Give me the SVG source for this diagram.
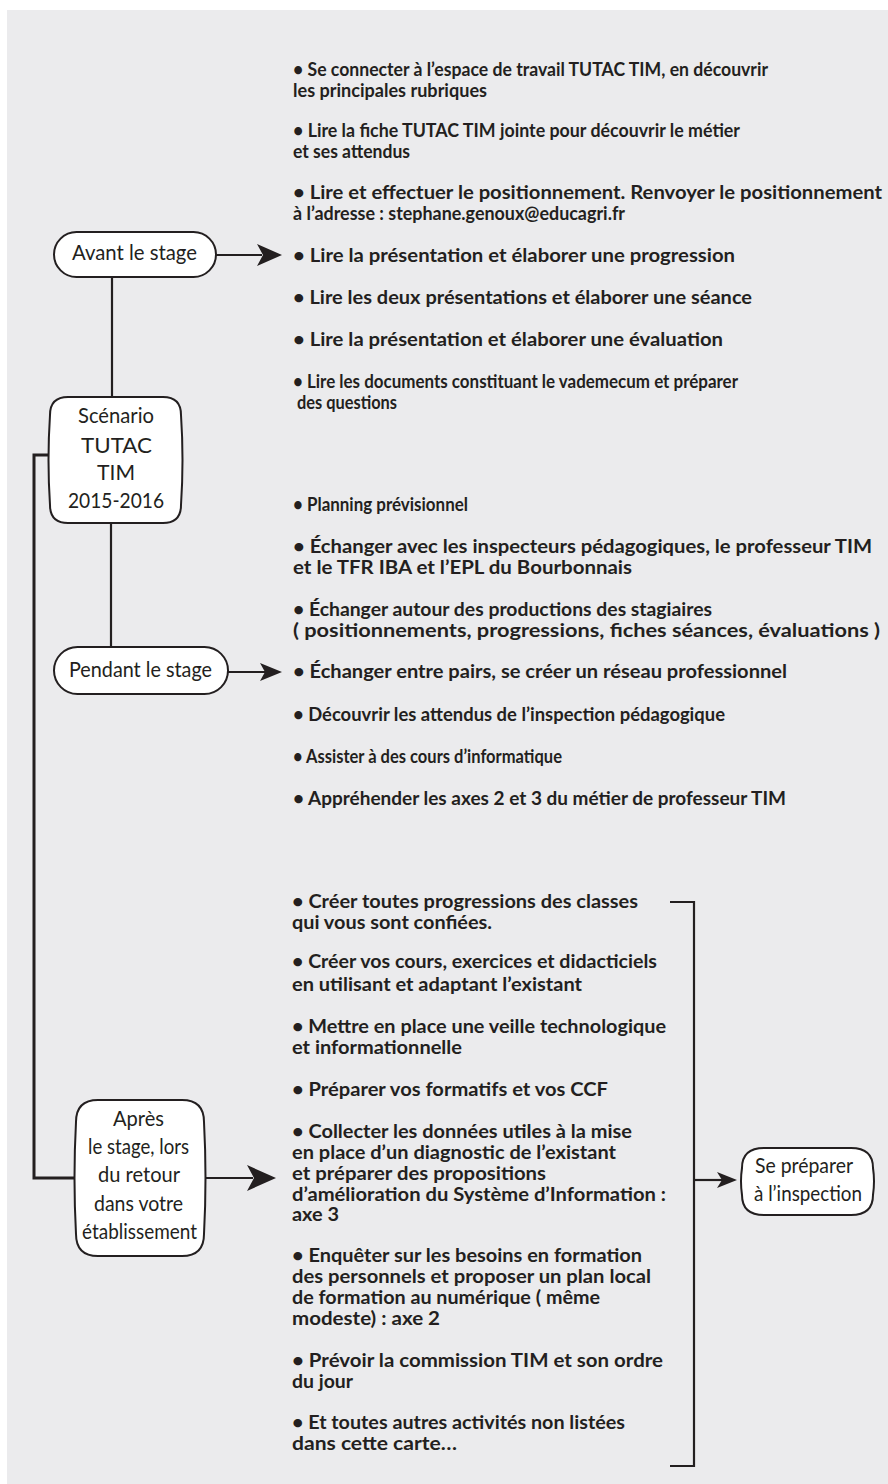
<svg xmlns="http://www.w3.org/2000/svg" width="888" height="1484" viewBox="0 0 888 1484">
<style>
.bg{fill:#ebebed}
.node{fill:#fff;stroke:#231f20;stroke-width:2}
.nt{font-family:Lato,"Liberation Sans",sans-serif;font-size:20.5px;fill:#231f20;text-anchor:middle}
.nl{font-family:Lato,"Liberation Sans",sans-serif;font-size:20.5px;fill:#231f20}
.bt{font-family:Lato,"Liberation Sans",sans-serif;font-size:18px;font-weight:bold;fill:#231f20}
.ln{fill:none;stroke:#231f20;stroke-width:2.2}
.lnb{fill:none;stroke:#231f20;stroke-width:3}
.ah{fill:#231f20;stroke:none}
</style>
<rect class="bg" x="7" y="10" width="881" height="1474"/>

<g id="connectors">
  <line class="ln" x1="112" y1="277" x2="112" y2="397"/>
  <line class="ln" x1="111" y1="523" x2="111" y2="647"/>
  <polyline class="lnb" points="50,455 34,455 34,1178 77,1178"/>
  <line class="ln" x1="216" y1="255" x2="262" y2="255"/>
  <path class="ah" d="M282,255 L257,244 L263,255 L257,266 Z"/>
  <line class="ln" x1="228" y1="672" x2="265" y2="672"/>
  <path class="ah" d="M282,672 L260,663 L265,672 L260,681 Z"/>
  <line class="ln" x1="204" y1="1178" x2="253" y2="1178"/>
  <path class="ah" d="M276,1178 L247,1165 L254,1178 L247,1191 Z"/>
  <polyline class="ln" points="670,902 694,902 694,1466 670,1466"/>
  <line class="ln" x1="694" y1="1180" x2="722" y2="1180"/>
  <path class="ah" d="M737,1180 L717,1172 L722,1180 L717,1188 Z"/>
</g>

<g id="avant">
  <rect class="node" x="54" y="232" width="162" height="45" rx="22.5"/>
  <text class="nt" x="134.5" y="260" textLength="125" lengthAdjust="spacingAndGlyphs">Avant le stage</text>
</g>

<g id="scenario">
  <path class="node" d="M68,397 H163 Q181,397 181,415 Q184,460 181,505 Q181,523 163,523 H68 Q50,523 50,505 Q47,460 50,415 Q50,397 68,397 Z"/>
  <text class="nt" x="116" y="423" textLength="76" lengthAdjust="spacingAndGlyphs">Scénario</text>
  <text class="nt" x="116.5" y="453" textLength="71" lengthAdjust="spacingAndGlyphs">TUTAC</text>
  <text class="nt" x="116" y="480" textLength="38" lengthAdjust="spacingAndGlyphs">TIM</text>
  <text class="nt" x="116" y="508" textLength="96" lengthAdjust="spacingAndGlyphs">2015-2016</text>
</g>

<g id="pendant">
  <rect class="node" x="54" y="647" width="174" height="47" rx="23.5"/>
  <text class="nt" x="140.5" y="677" textLength="143" lengthAdjust="spacingAndGlyphs">Pendant le stage</text>
</g>

<g id="apres">
  <path class="node" d="M98,1100 H182 Q204,1100 204,1122 Q207,1178 204,1234 Q204,1256 182,1256 H98 Q76,1256 76,1234 Q73,1178 76,1122 Q76,1100 98,1100 Z"/>
  <text class="nt" x="138.5" y="1126" textLength="51" lengthAdjust="spacingAndGlyphs">Après</text>
  <text class="nt" x="138.5" y="1154" textLength="101" lengthAdjust="spacingAndGlyphs">le stage, lors</text>
  <text class="nt" x="139" y="1182" textLength="82" lengthAdjust="spacingAndGlyphs">du retour</text>
  <text class="nt" x="138.5" y="1211" textLength="89" lengthAdjust="spacingAndGlyphs">dans votre</text>
  <text class="nt" x="139.5" y="1239" textLength="115" lengthAdjust="spacingAndGlyphs">établissement</text>
</g>

<g id="preparer">
  <path class="node" d="M764,1148 H851 Q873,1148 873,1168 Q875,1181 873,1195 Q873,1215 851,1215 H764 Q742,1215 742,1195 Q740,1181 742,1168 Q742,1148 764,1148 Z"/>
  <text class="nl" x="755" y="1173" textLength="98" lengthAdjust="spacingAndGlyphs">Se préparer</text>
  <text class="nl" x="754" y="1201" textLength="108" lengthAdjust="spacingAndGlyphs">à l’inspection</text>
</g>

<g id="avant-list">
  <text class="bt" x="293" y="76" textLength="475" lengthAdjust="spacingAndGlyphs">• Se connecter à l’espace de travail TUTAC TIM, en découvrir</text>
  <text class="bt" x="293" y="97" textLength="194" lengthAdjust="spacingAndGlyphs">les principales rubriques</text>
  <text class="bt" x="293" y="137" textLength="447" lengthAdjust="spacingAndGlyphs">• Lire la fiche TUTAC TIM jointe pour découvrir le métier</text>
  <text class="bt" x="293" y="158" textLength="117" lengthAdjust="spacingAndGlyphs">et ses attendus</text>
  <text class="bt" x="293" y="199" textLength="589" lengthAdjust="spacingAndGlyphs">• Lire et effectuer le positionnement. Renvoyer le positionnement</text>
  <text class="bt" x="293" y="220" textLength="332" lengthAdjust="spacingAndGlyphs">à l’adresse : stephane.genoux@educagri.fr</text>
  <text class="bt" x="293" y="262" textLength="442" lengthAdjust="spacingAndGlyphs">• Lire la présentation et élaborer une progression</text>
  <text class="bt" x="293" y="304" textLength="459" lengthAdjust="spacingAndGlyphs">• Lire les deux présentations et élaborer une séance</text>
  <text class="bt" x="293" y="346" textLength="430" lengthAdjust="spacingAndGlyphs">• Lire la présentation et élaborer une évaluation</text>
  <text class="bt" x="293" y="388" textLength="445" lengthAdjust="spacingAndGlyphs">• Lire les documents constituant le vademecum et préparer</text>
  <text class="bt" x="297" y="409" textLength="100" lengthAdjust="spacingAndGlyphs">des questions</text>
</g>

<g id="pendant-list">
  <text class="bt" x="293" y="511" textLength="175" lengthAdjust="spacingAndGlyphs">• Planning prévisionnel</text>
  <text class="bt" x="293" y="553" textLength="579" lengthAdjust="spacingAndGlyphs">• Échanger avec les inspecteurs pédagogiques, le professeur TIM</text>
  <text class="bt" x="293" y="574" textLength="339" lengthAdjust="spacingAndGlyphs">et le TFR IBA et l’EPL du Bourbonnais</text>
  <text class="bt" x="293" y="616" textLength="419" lengthAdjust="spacingAndGlyphs">• Échanger autour des productions des stagiaires</text>
  <text class="bt" x="293" y="637" textLength="587" lengthAdjust="spacingAndGlyphs">( positionnements, progressions, fiches séances, évaluations )</text>
  <text class="bt" x="293" y="678" textLength="494" lengthAdjust="spacingAndGlyphs">• Échanger entre pairs, se créer un réseau professionnel</text>
  <text class="bt" x="293" y="721" textLength="432" lengthAdjust="spacingAndGlyphs">• Découvrir les attendus de l’inspection pédagogique</text>
  <text class="bt" x="293" y="763" textLength="269" lengthAdjust="spacingAndGlyphs">• Assister à des cours d’informatique</text>
  <text class="bt" x="293" y="805" textLength="493" lengthAdjust="spacingAndGlyphs">• Appréhender les axes 2 et 3 du métier de professeur TIM</text>
</g>

<g id="apres-list">
  <text class="bt" x="292" y="908" textLength="346" lengthAdjust="spacingAndGlyphs">• Créer toutes progressions des classes</text>
  <text class="bt" x="292" y="929" textLength="200" lengthAdjust="spacingAndGlyphs">qui vous sont confiées.</text>
  <text class="bt" x="292" y="968" textLength="365" lengthAdjust="spacingAndGlyphs">• Créer vos cours, exercices et didacticiels</text>
  <text class="bt" x="292" y="991" textLength="290" lengthAdjust="spacingAndGlyphs">en utilisant et adaptant l’existant</text>
  <text class="bt" x="292" y="1033" textLength="374" lengthAdjust="spacingAndGlyphs">• Mettre en place une veille technologique</text>
  <text class="bt" x="292" y="1054" textLength="170" lengthAdjust="spacingAndGlyphs">et informationnelle</text>
  <text class="bt" x="292" y="1096" textLength="316" lengthAdjust="spacingAndGlyphs">• Préparer vos formatifs et vos CCF</text>
  <text class="bt" x="292" y="1138" textLength="340" lengthAdjust="spacingAndGlyphs">• Collecter les données utiles à la mise</text>
  <text class="bt" x="292" y="1159" textLength="324" lengthAdjust="spacingAndGlyphs">en place d’un diagnostic de l’existant</text>
  <text class="bt" x="292" y="1180" textLength="254" lengthAdjust="spacingAndGlyphs">et préparer des propositions</text>
  <text class="bt" x="292" y="1201" textLength="374" lengthAdjust="spacingAndGlyphs">d’amélioration du Système d’Information :</text>
  <text class="bt" x="292" y="1221" textLength="47" lengthAdjust="spacingAndGlyphs">axe 3</text>
  <text class="bt" x="292" y="1262" textLength="350" lengthAdjust="spacingAndGlyphs">• Enquêter sur les besoins en formation</text>
  <text class="bt" x="292" y="1283" textLength="359" lengthAdjust="spacingAndGlyphs">des personnels et proposer un plan local</text>
  <text class="bt" x="292" y="1304" textLength="308" lengthAdjust="spacingAndGlyphs">de formation au numérique ( même</text>
  <text class="bt" x="292" y="1325" textLength="148" lengthAdjust="spacingAndGlyphs">modeste) : axe 2</text>
  <text class="bt" x="292" y="1367" textLength="371" lengthAdjust="spacingAndGlyphs">• Prévoir la commission TIM  et son ordre</text>
  <text class="bt" x="292" y="1388" textLength="61" lengthAdjust="spacingAndGlyphs">du jour</text>
  <text class="bt" x="292" y="1429" textLength="333" lengthAdjust="spacingAndGlyphs">• Et toutes autres activités non listées</text>
  <text class="bt" x="292" y="1450" textLength="165" lengthAdjust="spacingAndGlyphs">dans cette carte…</text>
</g>
</svg>
